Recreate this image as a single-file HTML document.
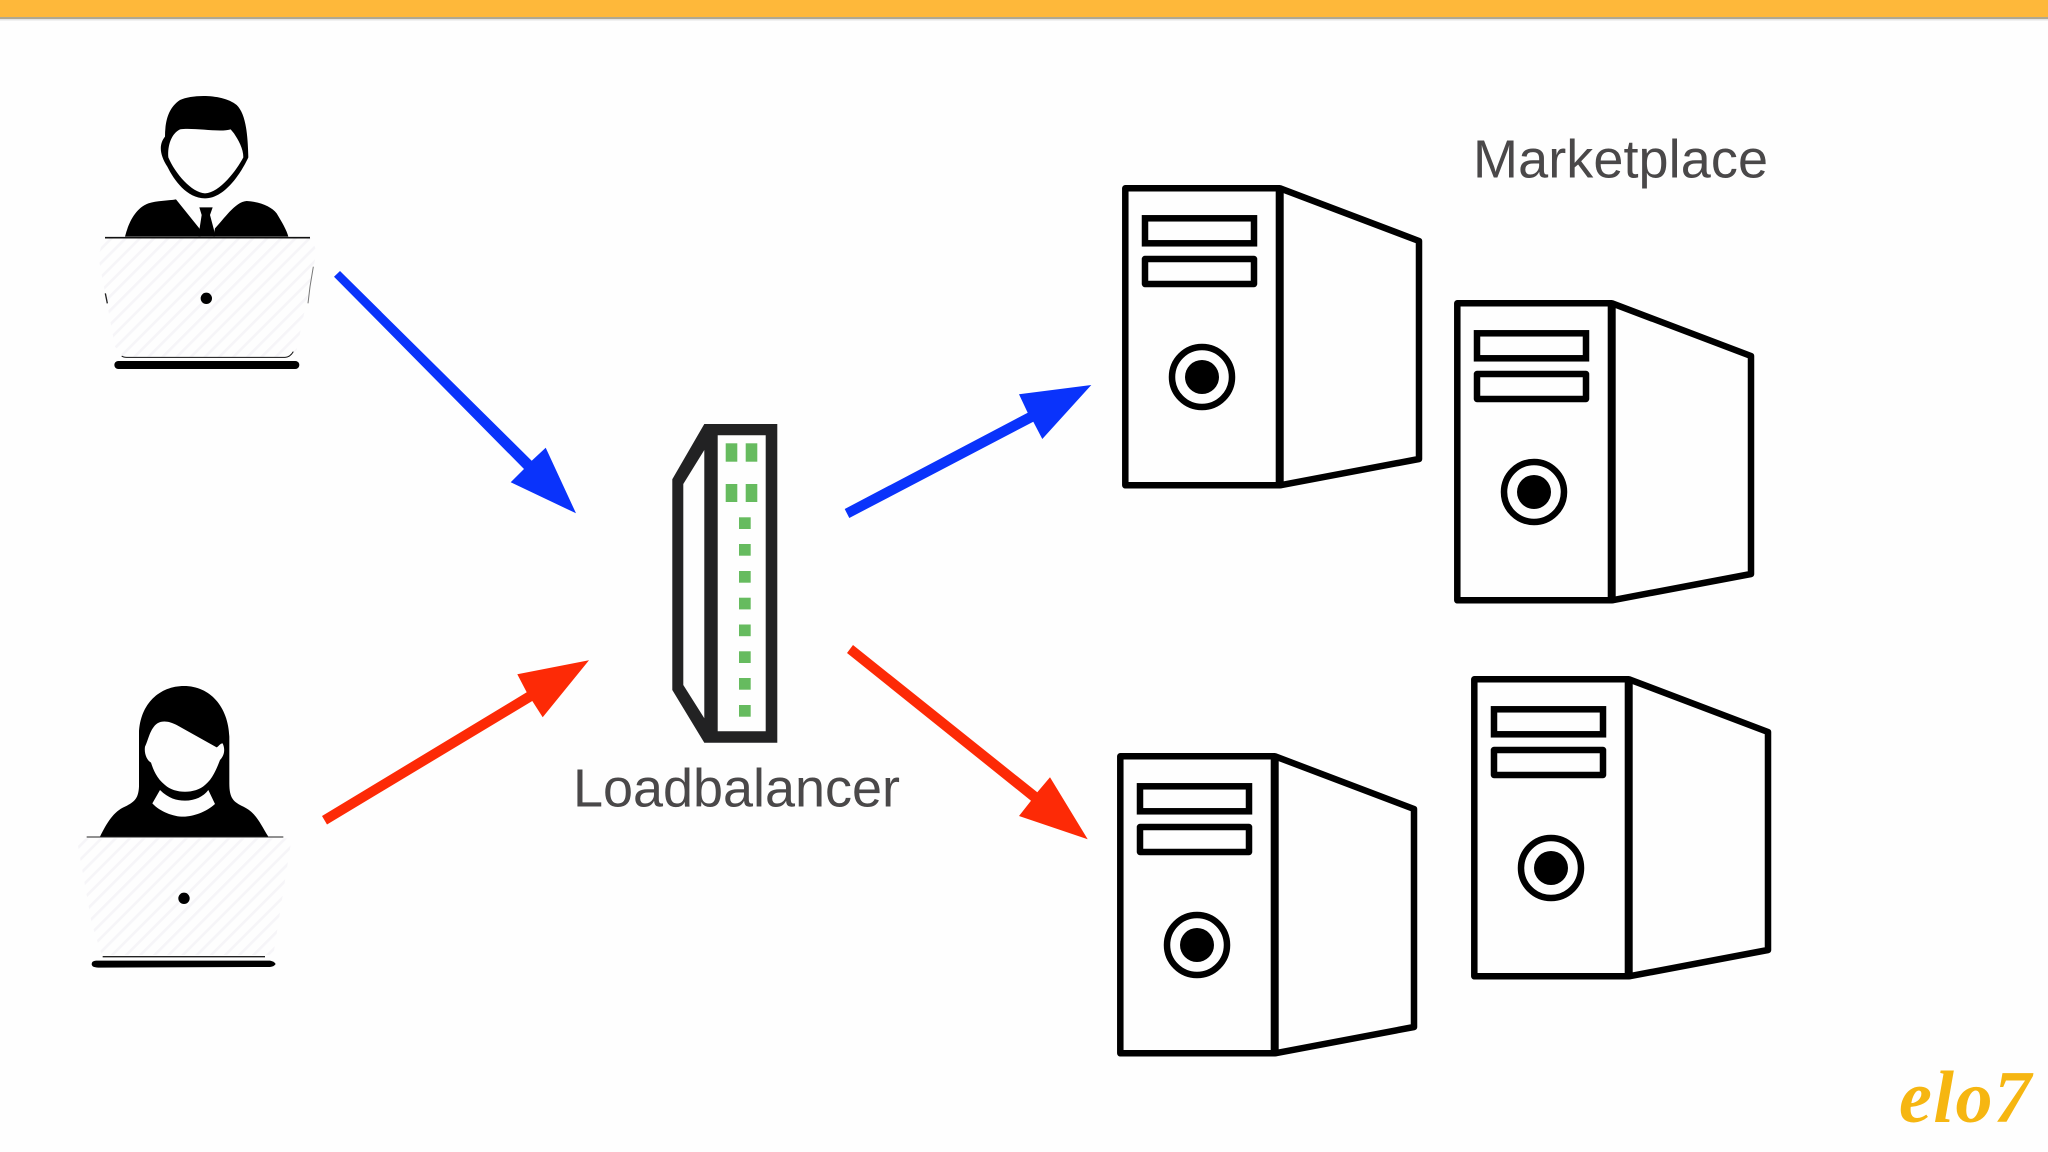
<!DOCTYPE html>
<html>
<head>
<meta charset="utf-8">
<style>
html,body{margin:0;padding:0;background:#fefefe;}
svg{display:block;}
</style>
</head>
<body>
<svg width="2048" height="1152" viewBox="0 0 2048 1152" xmlns="http://www.w3.org/2000/svg">
<defs>
<pattern id="hatch" width="30" height="30" patternUnits="userSpaceOnUse" patternTransform="rotate(-45)">
<rect width="30" height="30" fill="#fefefe"/>
<rect x="0" y="0" width="30" height="8" fill="#f6f5f8"/>
</pattern>
<g id="server" fill="none" stroke="#000" stroke-width="6.5" stroke-linejoin="round">
<rect x="1125.3" y="188.3" width="154.4" height="297"/>
<path d="M1280 188.3 L1419 241 L1419 459 L1280 485.3"/>
<path d="M1279.7 188.3 V485.3" stroke-width="8"/>
<rect x="1145" y="218.3" width="109" height="25" stroke-linejoin="miter"/>
<rect x="1145" y="259" width="109" height="25"/>
<circle cx="1202" cy="377" r="30"/>
<circle cx="1202" cy="377" r="17" fill="#000" stroke="none"/>
</g>
</defs>
<rect width="2048" height="1152" fill="#fefefe"/>
<rect x="0" y="0" width="2048" height="17" fill="#feb83a"/>
<rect x="0" y="17" width="2048" height="2" fill="#b0a890"/>
<rect x="0" y="19" width="2048" height="1.5" fill="#e4e4e4"/>

<!-- man -->
<g transform="translate(80,70) scale(.33333)">
<path d="M300 90C340 72 430 72 470 105C495 130 503 180 505 262C490 295 440 385 375 385C320 385 282 330 262 290C240 255 235 225 255 200C255 160 262 115 300 90Z" fill="#000"/>
<path d="M300 178C340 172 420 188 452 178L462 190C475 210 490 235 490 262C470 300 420 368 375 370C335 368 285 310 265 262C262 225 275 190 300 178Z" fill="#fefefe"/>
<path d="M135 500C145 460 165 415 205 400C230 392 265 392 288 388L358 475L362 500Z" fill="#000"/>
<path d="M358 412L398 412L390 435L402 480L405 500L355 500L365 435Z" fill="#000"/>
<path d="M405 475C430 450 465 395 500 393C540 395 575 410 590 430C605 455 620 480 625 500L400 500Z" fill="#000"/>
<path d="M70 505L695 505L710 545L650 840L625 862L130 860L105 830L55 560Z" fill="url(#hatch)"/>
<path d="M75 503H690" stroke="#111" stroke-width="5" fill="none"/>
<path d="M125 858Q130 862 140 862H615Q630 862 640 845" stroke="#111" stroke-width="3" fill="none"/>
<path d="M700 590L690 650L684 700" stroke="#777" stroke-width="3" fill="none"/>
<path d="M76 670L82 700" stroke="#222" stroke-width="4" fill="none"/>
<circle cx="379" cy="685" r="17" fill="#000"/>
<rect x="103" y="873" width="555" height="24" rx="12" fill="#000"/>
</g>

<!-- woman -->
<g transform="translate(70,670) scale(.33333)">
<path d="M90 500C110 460 130 425 165 410C195 395 205 385 207 350L207 190C210 100 270 48 342 48C420 48 475 110 478 200L478 340C478 385 490 395 520 410C560 430 570 460 595 500Z" fill="#000"/>
<path d="M225 230C235 210 240 175 262 160C280 150 300 155 320 165L440 232C445 230 450 220 458 220C465 235 465 255 450 270C442 290 430 325 405 345C375 372 315 372 285 345C260 325 250 300 243 278C230 270 222 250 225 230Z" fill="#fefefe"/>
<path d="M270 360C295 385 320 392 345 392C375 392 400 380 415 360L435 402C410 425 370 440 340 440C310 440 270 425 247 400Z" fill="#fefefe"/>
<path d="M20 505L665 505L650 600L610 855L95 855L65 760Z" fill="url(#hatch)"/>
<path d="M50 501H640" stroke="#222" stroke-width="3" fill="none"/>
<path d="M98 860H585" stroke="#222" stroke-width="4" fill="none"/>
<path d="M78 872H600Q612 874 617 882Q612 890 600 891L85 893Q65 892 65 882Q65 873 78 872Z" fill="#000"/>
<circle cx="342" cy="685" r="17" fill="#000"/>
</g>

<!-- arrows -->
<polygon fill="#0a33fb" points="334,276.7 340,271 531.7,460.7 545.7,447.7 576,513.3 510.7,482.3 524,469"/>
<polygon fill="#0a33fb" points="844.7,509 849.3,518 1033.3,421.7 1042.3,439 1091.3,385 1019,394.3 1027.7,412.7"/>
<polygon fill="#fd2a06" points="322,816 327,824.5 532.3,701 542.7,717.3 589,660.3 517.3,674.3 526.7,692.3"/>
<polygon fill="#fd2a06" points="853,645 847,653 1031,800.7 1019,816 1087.7,839.3 1050,777.3 1037.3,792.3"/>

<!-- load balancer -->
<path fill-rule="evenodd" fill="#222223" d="M704.3 424H777.3V742.7H704.3L672.3 690V479.3ZM717.7 435.3V731.3H765.7V435.3ZM704.3 450L683.3 484V685L704.3 718.3Z"/>
<g fill="#66bb5f">
<rect x="725.7" y="443.3" width="11.6" height="18.4"/>
<rect x="745.7" y="443.3" width="11.6" height="18.4"/>
<rect x="725.7" y="484" width="11.6" height="18"/>
<rect x="745.7" y="484" width="11.6" height="18"/>
<rect x="739" y="517.3" width="11.7" height="11.7"/>
<rect x="739" y="544" width="11.7" height="11.7"/>
<rect x="739" y="571" width="11.7" height="11.7"/>
<rect x="739" y="597.7" width="11.7" height="11.7"/>
<rect x="739" y="624.5" width="11.7" height="11.7"/>
<rect x="739" y="651.3" width="11.7" height="11.7"/>
<rect x="739" y="678" width="11.7" height="11.7"/>
<rect x="739" y="705" width="11.7" height="11.7"/>
</g>

<!-- servers -->
<use href="#server"/>
<use href="#server" transform="translate(332,115)"/>
<use href="#server" transform="translate(-5,568)"/>
<use href="#server" transform="translate(349,491)"/>

<!-- labels -->
<text x="1473" y="177.3" font-family="'Liberation Sans',sans-serif" font-size="54" fill="#4a4849" textLength="295" lengthAdjust="spacing">Marketplace</text>
<text x="573" y="806.7" font-family="'Liberation Sans',sans-serif" font-size="54" fill="#4a4849" textLength="327" lengthAdjust="spacing">Loadbalancer</text>
<text x="1899" y="1122" font-family="'Liberation Serif',serif" font-style="italic" font-weight="bold" font-size="74" fill="#f6b611" textLength="132" lengthAdjust="spacing">elo7</text>
</svg>
</body>
</html>
